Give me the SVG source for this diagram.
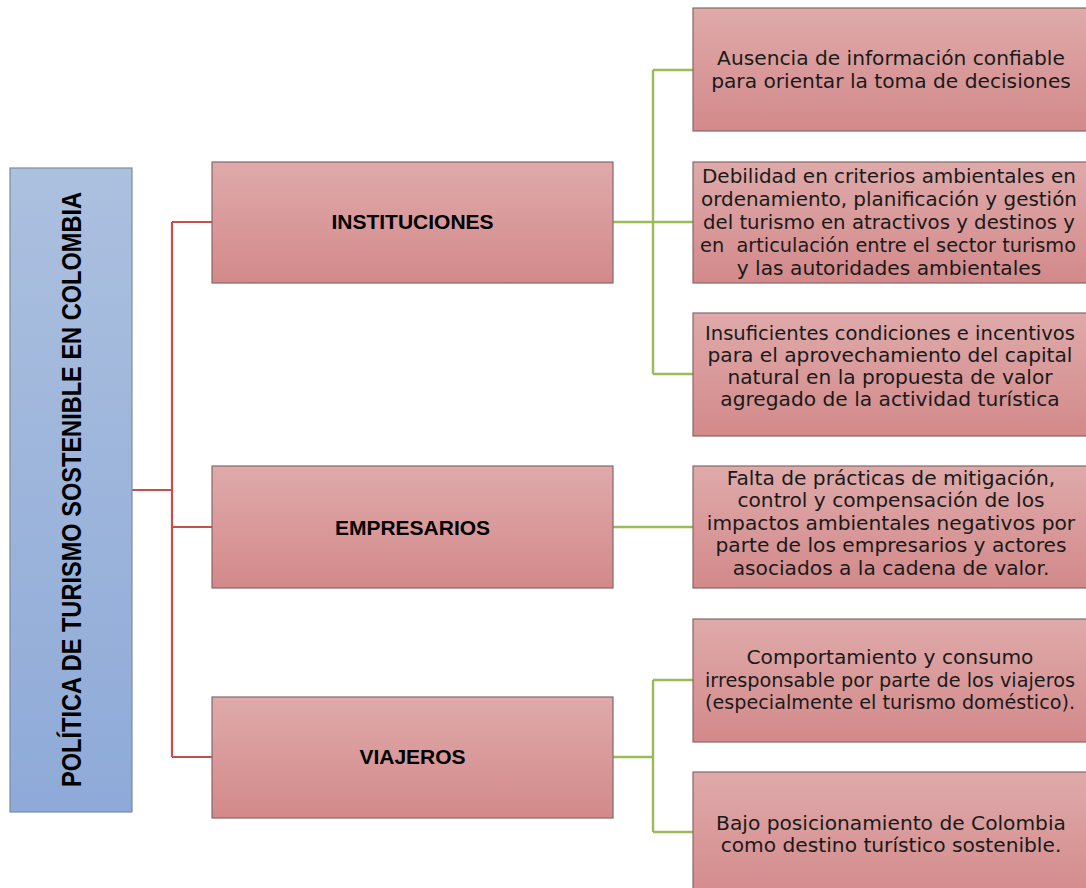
<svg xmlns="http://www.w3.org/2000/svg" width="1086" height="888" viewBox="0 0 1086 888">
  <defs>
    <linearGradient id="gPink" x1="0" y1="0" x2="0" y2="1">
      <stop offset="0" stop-color="#dfaaaa"/>
      <stop offset="1" stop-color="#d3898a"/>
    </linearGradient>
    <linearGradient id="gBlue" x1="0" y1="0" x2="0" y2="1">
      <stop offset="0" stop-color="#acc0df"/>
      <stop offset="1" stop-color="#8eaad8"/>
    </linearGradient>
  </defs>
  <style>
    .pink { fill: url(#gPink); stroke: #866767; stroke-width: 1.2; }
    .blue { fill: url(#gBlue); stroke: #7f8a9c; stroke-width: 1.2; }
    .red { fill: none; stroke: #c4504d; stroke-width: 2.2; }
    .green { fill: none; stroke: #9bbb59; stroke-width: 2.4; }
    .mid { font-family: "Liberation Sans", Arial, sans-serif; font-weight: bold; font-size: 21px; fill: #000; text-anchor: middle; }
    .desc { font-family: "DejaVu Sans", "Liberation Sans", sans-serif; font-size: 20.2px; fill: #1a1a1a; text-anchor: middle; }
    .tight { font-size: 19.2px; }
    .title { font-family: "Liberation Sans", Arial, sans-serif; font-weight: bold; font-size: 27px; fill: #000; text-anchor: middle; }
  </style>

  <g id="connectors">
    <path class="red" d="M132,490 H172 M172,222 V757 M172,222 H212 M172,527 H212 M172,757 H212"/>
    <path class="green" d="M613,222 H653 M653,70 V374 M653,70 H693 M653,222 H693 M653,374 H693"/>
    <path class="green" d="M613,527 H693"/>
    <path class="green" d="M613,757 H653 M653,680 V832 M653,680 H693 M653,832 H693"/>
  </g>

  <g id="root">
    <rect class="blue" x="10" y="168" width="122" height="644"/>
    <text class="title" transform="translate(81,489.5) rotate(-90)" x="0" y="0" textLength="595" lengthAdjust="spacingAndGlyphs">POLÍTICA DE TURISMO SOSTENIBLE EN COLOMBIA</text>
  </g>

  <g id="instituciones">
    <rect class="pink" x="212" y="162" width="401" height="121"/>
    <text class="mid" x="412.5" y="229">INSTITUCIONES</text>
  </g>
  <g id="empresarios">
    <rect class="pink" x="212" y="466" width="401" height="122"/>
    <text class="mid" x="412.5" y="535">EMPRESARIOS</text>
  </g>
  <g id="viajeros">
    <rect class="pink" x="212" y="697" width="401" height="121"/>
    <text class="mid" x="412.5" y="764">VIAJEROS</text>
  </g>

  <g id="p1">
    <rect class="pink" x="693" y="8" width="401" height="123"/>
    <text class="desc" x="891" y="65">Ausencia de información confiable</text>
    <text class="desc" x="891" y="87.5">para orientar la toma de decisiones</text>
  </g>
  <g id="p2">
    <rect class="pink" x="693" y="162" width="401" height="121"/>
    <text class="desc" x="889" y="183" textLength="374" lengthAdjust="spacingAndGlyphs">Debilidad en criterios ambientales en</text>
    <text class="desc" x="889" y="206" textLength="376" lengthAdjust="spacingAndGlyphs">ordenamiento, planificación y gestión</text>
    <text class="desc" x="889" y="229" textLength="372" lengthAdjust="spacingAndGlyphs">del turismo en atractivos y destinos  y</text>
    <text class="desc tight" x="888" y="252" xml:space="preserve" textLength="376" lengthAdjust="spacingAndGlyphs">en  articulación entre el sector turismo</text>
    <text class="desc" x="889" y="275">y las autoridades ambientales</text>
  </g>
  <g id="p3">
    <rect class="pink" x="693" y="313" width="401" height="123"/>
    <text class="desc" x="890" y="340" textLength="370" lengthAdjust="spacingAndGlyphs">Insuficientes condiciones e incentivos</text>
    <text class="desc" x="890" y="362">para el aprovechamiento del capital</text>
    <text class="desc" x="890" y="384">natural en la propuesta de valor</text>
    <text class="desc" x="890" y="406">agregado de la actividad turística</text>
  </g>
  <g id="p4">
    <rect class="pink" x="693" y="466" width="401" height="122"/>
    <text class="desc" x="891" y="485">Falta de prácticas de mitigación,</text>
    <text class="desc" x="891" y="507">control y compensación de los</text>
    <text class="desc" x="891" y="530">impactos ambientales negativos por</text>
    <text class="desc" x="891" y="552">parte de los empresarios y actores</text>
    <text class="desc" x="891" y="575">asociados a la cadena de valor.</text>
  </g>
  <g id="p5">
    <rect class="pink" x="693" y="619" width="401" height="123"/>
    <text class="desc" x="890" y="664">Comportamiento y consumo</text>
    <text class="desc tight" x="890" y="687" textLength="370" lengthAdjust="spacingAndGlyphs">irresponsable por parte de los viajeros</text>
    <text class="desc tight" x="890" y="709" textLength="370" lengthAdjust="spacingAndGlyphs">(especialmente el turismo doméstico).</text>
  </g>
  <g id="p6">
    <rect class="pink" x="693" y="772" width="401" height="130"/>
    <text class="desc" x="891" y="830">Bajo posicionamiento de Colombia</text>
    <text class="desc" x="891" y="852">como destino turístico sostenible.</text>
  </g>
</svg>
